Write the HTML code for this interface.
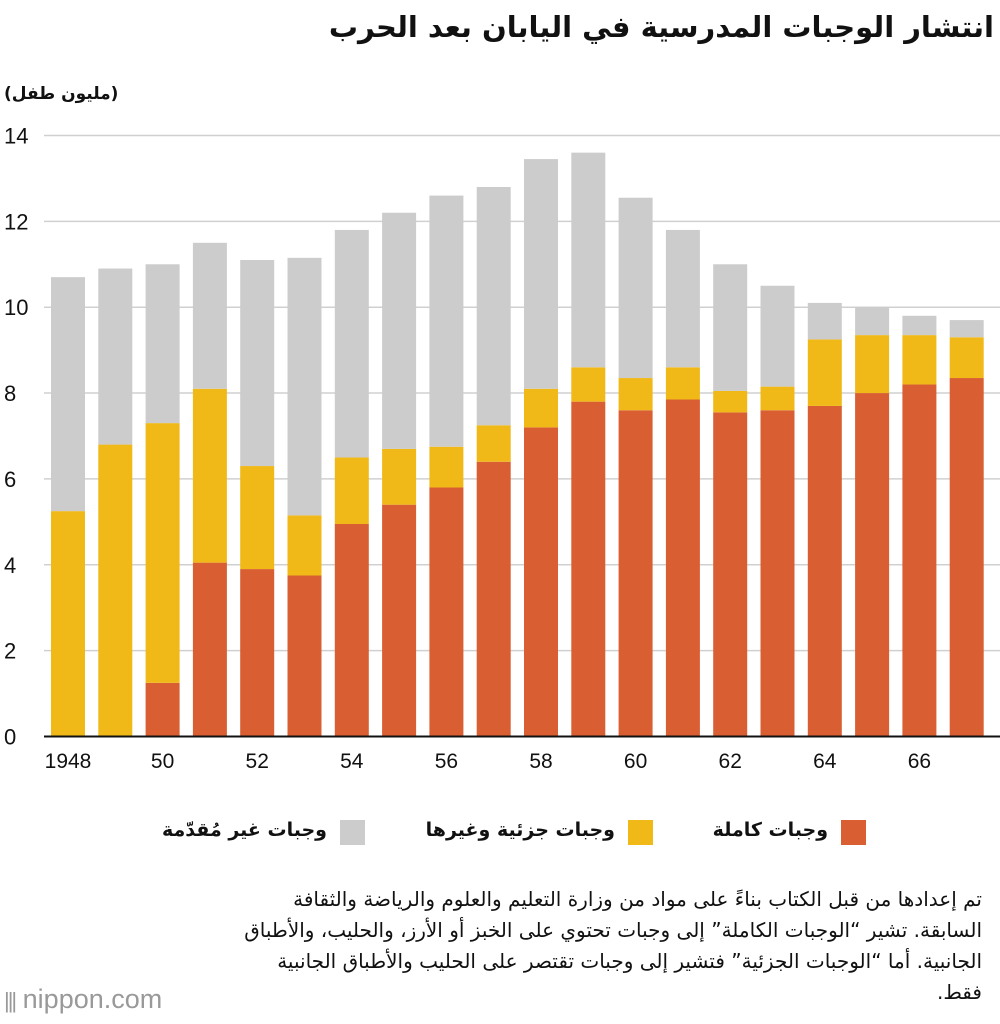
<!DOCTYPE html>
<html><head><meta charset="utf-8">
<style>
body{margin:0;width:1000px;height:1024px;background:#fff;font-family:"Liberation Sans","Noto Sans CJK SC",sans-serif;overflow:hidden;position:relative}
.ar{font-family:"DejaVu Sans","Liberation Sans",sans-serif;direction:rtl;position:absolute;color:#111}
</style></head><body>
<div class="ar" style="right:6px;top:10px;font-size:29px;font-weight:bold">انتشار الوجبات المدرسية في اليابان بعد الحرب</div>
<div class="ar" style="left:4px;top:84px;font-size:17px;font-weight:bold">(مليون طفل)</div>
<svg id="chart" width="1000" height="790" style="position:absolute;left:0;top:0"></svg>
<div style="position:absolute;top:818px;left:0;width:1000px;height:30px">
 <div><div style="position:absolute;left:841px;top:2px;width:25px;height:25px;background:#d95f33"></div><div class="ar" style="right:172px;top:1px;font-size:19px;font-weight:bold">وجبات كاملة</div></div>
 <div><div style="position:absolute;left:628px;top:2px;width:25px;height:25px;background:#f0b918"></div><div class="ar" style="right:385px;top:1px;font-size:19px;font-weight:bold">وجبات جزئية وغيرها</div></div>
 <div><div style="position:absolute;left:340px;top:2px;width:25px;height:25px;background:#cccccc"></div><div class="ar" style="right:673px;top:1px;font-size:19px;font-weight:bold">وجبات غير مُقدّمة</div></div>
</div>
<div class="ar" style="right:18px;top:884px;width:740px;font-size:20px;line-height:31px">تم إعدادها من قبل الكتاب بناءً على مواد من وزارة التعليم والعلوم والرياضة والثقافة السابقة. تشير “الوجبات الكاملة” إلى وجبات تحتوي على الخبز أو الأرز، والحليب، والأطباق الجانبية. أما “الوجبات الجزئية” فتشير إلى وجبات تقتصر على الحليب والأطباق الجانبية فقط.</div>
<div style="position:absolute;left:4px;top:984px;font-size:27px;color:#999;font-family:'Liberation Sans',sans-serif"><span style="letter-spacing:-2px;font-size:22px">|||</span> nippon<span>.com</span></div>
<script>
const years=[1948,1949,1950,1951,1952,1953,1954,1955,1956,1957,1958,1959,1960,1961,1962,1963,1964,1965,1966,1967];
const fullMeals=[0,0,1.25,4.05,3.9,3.75,4.95,5.4,5.8,6.4,7.2,7.8,7.6,7.85,7.55,7.6,7.7,8.0,8.2,8.35];
const partialMeals=[5.25,6.8,6.05,4.05,2.4,1.4,1.55,1.3,0.95,0.85,0.9,0.8,0.75,0.75,0.5,0.55,1.55,1.35,1.15,0.95];
const noMeals=[5.45,4.1,3.7,3.4,4.8,6.0,5.3,5.5,5.85,5.55,5.35,5.0,4.2,3.2,2.95,2.35,0.85,0.65,0.45,0.4];
const yTicks=[0,2,4,6,8,10,12,14];
const xLabels=["1948","","50","","52","","54","","56","","58","","60","","62","","64","","66",""];
const svg=document.getElementById('chart');
const NS='http://www.w3.org/2000/svg';
const y0=736.5,yScale=42.93,barW=34,x0=51,step=47.3;
const Y=v=>y0-v*yScale;
const X=i=>x0+i*step;
function mk(t,a){const e=document.createElementNS(NS,t);for(const k in a)e.setAttribute(k,a[k]);svg.appendChild(e);return e;}
yTicks.forEach(t=>{
 if(t>0){const l=mk('line',{x1:44,x2:1000,y1:Y(t),y2:Y(t),stroke:'#d0d0d0','stroke-width':1.5});
 
 }
 const tx=mk('text',{x:4,y:Y(t)+8,'font-size':22,fill:'#111','font-family':'Liberation Sans'});tx.textContent=t;
 
 
});
years.forEach((yr,i)=>{
 const segs=[[0,fullMeals[i],'#d95f33','bar-full'],[fullMeals[i],fullMeals[i]+partialMeals[i],'#f0b918','bar-partial'],[fullMeals[i]+partialMeals[i],fullMeals[i]+partialMeals[i]+noMeals[i],'#cccccc','bar-none']];
 segs.forEach(s=>{if(s[1]-s[0]<=0)return;
  const r=mk('rect',{x:X(i),y:Y(s[1]),width:barW,height:Y(s[0])-Y(s[1]),fill:s[2]});
  
  
 });
 if(xLabels[i]){const t=mk('text',{x:X(i)+barW/2,y:768,'font-size':21,'text-anchor':'middle',fill:'#111','font-family':'Liberation Sans'});t.textContent=xLabels[i];
 
 }
});
const ax=mk('line',{x1:44,x2:1000,y1:y0,y2:y0,stroke:'#111','stroke-width':2});


</script>
</body></html>
